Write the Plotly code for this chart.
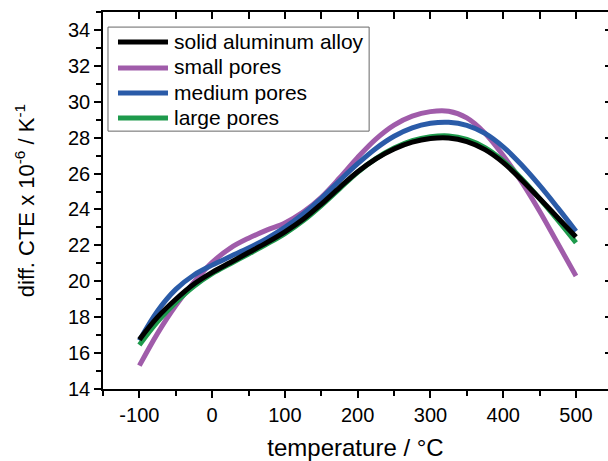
import plotly.graph_objects as go

temperature = [-100, -75, -50, -25, 0, 25, 50, 75, 100, 125, 150, 175, 200,
               225, 250, 275, 300, 325, 350, 375, 400, 425, 450, 475, 500]

solid_alloy = [16.75, 18.0, 19.0, 19.85, 20.5, 21.05, 21.6, 22.15, 22.75, 23.45,
               24.3, 25.22, 26.1, 26.82, 27.37, 27.75, 27.95, 27.98, 27.78, 27.33,
               26.61, 25.66, 24.61, 23.54, 22.47]
small_pores = [15.3, 17.1, 18.65, 19.95, 21.05, 21.85, 22.4, 22.85, 23.25, 23.85,
               24.68, 25.75, 26.9, 27.92, 28.7, 29.2, 29.45, 29.47, 29.1, 28.25,
               27.0, 25.55, 23.9, 22.1, 20.3]
medium_pores = [16.7, 18.35, 19.55, 20.35, 20.9, 21.38, 21.85, 22.38, 23.0, 23.75,
                24.62, 25.6, 26.55, 27.4, 28.08, 28.55, 28.8, 28.86, 28.69, 28.24,
                27.49, 26.49, 25.34, 24.09, 22.79]
large_pores = [16.45, 17.75, 18.82, 19.72, 20.42, 20.98, 21.52, 22.07, 22.66, 23.37,
               24.22, 25.15, 26.07, 26.83, 27.42, 27.83, 28.05, 28.1, 27.9, 27.44,
               26.7, 25.72, 24.6, 23.4, 22.15]

series_names = ["solid aluminum alloy", "small pores", "medium pores", "large pores"]
series_colors = ["#000000", "#A05CAA", "#2A5BA8", "#1E9A4C"]
series_values = [solid_alloy, small_pores, medium_pores, large_pores]

x_tickvals = [-100, 0, 100, 200, 300, 400, 500]
x_ticktext = ["-100", "0", "100", "200", "300", "400", "500"]
y_tickvals = [14, 16, 18, 20, 22, 24, 26, 28, 30, 32, 34]
y_ticktext = ["14", "16", "18", "20", "22", "24", "26", "28", "30", "32", "34"]

x_range = [-150, 544]
y_range = [14, 35]

FONT = "Liberation Sans, Arial, sans-serif"

fig = go.Figure()
# draw order: small, medium, large, solid (black on top)
draw_order = [1, 2, 3, 0]
for i in draw_order:
    fig.add_trace(go.Scatter(
        x=temperature, y=series_values[i], name=series_names[i],
        mode="lines", line=dict(color=series_colors[i], width=5, shape="spline",
                                smoothing=1.0),
        showlegend=False,
    ))

# dummy trace for the mirrored top/right axes
fig.add_trace(go.Scatter(x=[x_range[0]], y=[y_range[0]], xaxis="x2", yaxis="y2",
                         mode="markers", marker=dict(opacity=0), showlegend=False,
                         hoverinfo="skip"))

# legend drawn as a framed box with sample lines and text labels (paper coords)
legend_box = dict(x0=0.0099, x1=0.527, y0=0.684, y1=0.960)
legend_line_x = (0.0297, 0.1287)
legend_text_x = 0.1366
legend_row_y = [0.9204, 0.8515, 0.7851, 0.7188]

fig.add_shape(type="rect", xref="paper", yref="paper", **legend_box,
              line=dict(color="#666666", width=1), fillcolor="white", layer="above")
annotations = []
for k in range(len(series_names)):
    fig.add_shape(type="line", xref="paper", yref="paper",
                  x0=legend_line_x[0], x1=legend_line_x[1],
                  y0=legend_row_y[k], y1=legend_row_y[k],
                  line=dict(color=series_colors[k], width=5), layer="above")
    annotations.append(dict(xref="paper", yref="paper", x=legend_text_x, y=legend_row_y[k],
                            xanchor="left", yanchor="middle", text=series_names[k],
                            showarrow=False, font=dict(size=21, color="black"),
                            xshift=0, yshift=1))

axis_common = dict(showgrid=False, zeroline=False, showline=True, linecolor="black",
                   linewidth=1.5, tickcolor="black", tickwidth=1.5)

fig.update_layout(
    width=608, height=461,
    margin=dict(l=103, r=0, t=12, b=72),
    paper_bgcolor="white", plot_bgcolor="white",
    font=dict(family=FONT, color="black", size=20),
    annotations=annotations,
    xaxis=dict(range=x_range, tickmode="array", tickvals=x_tickvals, ticktext=x_ticktext,
               ticks="outside", ticklen=7,
               minor=dict(dtick=50, tick0=0, ticks="outside", ticklen=5,
                          tickcolor="black", tickwidth=1.5),
               tickfont=dict(size=20),
               title=dict(text="temperature / °C", font=dict(size=24), standoff=16),
               **axis_common),
    yaxis=dict(range=y_range, tickmode="array", tickvals=y_tickvals, ticktext=y_ticktext,
               ticks="outside", ticklen=7,
               minor=dict(dtick=1, tick0=0, ticks="outside", ticklen=5,
                          tickcolor="black", tickwidth=1.5),
               tickfont=dict(size=20),
               title=dict(text="diff. CTE x 10<sup>-6</sup> / K<sup>-1</sup>",
                          font=dict(size=22), standoff=27),
               **axis_common),
    xaxis2=dict(overlaying="x", side="top", range=x_range, tick0=0, dtick=50,
                ticks="inside", ticklen=7, showticklabels=False, **axis_common),
    yaxis2=dict(overlaying="y", side="right", range=y_range, tick0=0, dtick=2,
                ticks="inside", ticklen=3, showticklabels=False,
                showgrid=False, zeroline=False, showline=False,
                tickcolor="black", tickwidth=1.5),
    showlegend=False,
)

fig.write_html("out.html", config={"displayModeBar": False},
               post_script="document.body.style.margin='0px';")
